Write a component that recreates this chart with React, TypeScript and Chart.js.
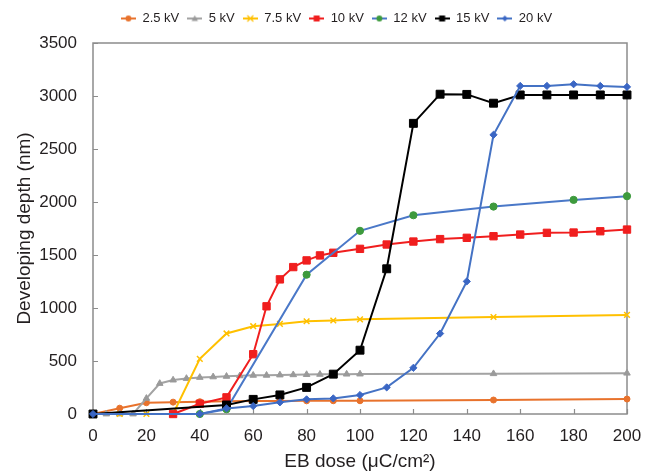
import React, { useEffect, useRef } from 'react';
import { Chart, registerables } from 'chart.js';

Chart.register(...registerables);

// ---- data ----
const seriesNames = ['2.5 kV', '5 kV', '7.5 kV', '10 kV', '12 kV', '15 kV', '20 kV'];

const dose25 = [0, 10, 20, 30, 40, 50, 60, 70, 80, 90, 100, 150, 200];
const depth25 = [0, 55, 106, 112, 116, 120, 122, 123, 124, 125, 125, 132, 141];

const dose5 = [0, 5, 10, 15, 20, 25, 30, 35, 40, 45, 50, 55, 60, 65, 70, 75, 80, 85, 90, 95, 100, 150, 200];
const depth5 = [0, 0, 0, 0, 147, 288, 320, 335, 345, 350, 355, 360, 365, 365, 368, 370, 372, 374, 375, 376, 377, 380, 385];

const dose75 = [0, 10, 20, 30, 40, 50, 60, 70, 80, 90, 100, 150, 200];
const depth75 = [0, 0, 0, 0, 520, 760, 828, 850, 875, 882, 893, 915, 935];

const dose10 = [30, 40, 50, 60, 65, 70, 75, 80, 85, 90, 100, 110, 120, 130, 140, 150, 160, 170, 180, 190, 200];
const depth10 = [0, 97, 157, 564, 1016, 1270, 1386, 1449, 1496, 1521, 1558, 1599, 1627, 1650, 1662, 1677, 1693, 1709, 1712, 1724, 1740];

const dose12 = [0, 40, 50, 80, 100, 120, 150, 180, 200];
const depth12 = [0, 0, 45, 1314, 1728, 1875, 1957, 2020, 2055];

const dose15 = [0, 50, 60, 70, 80, 90, 100, 110, 120, 130, 140, 150, 160, 170, 180, 190, 200];
const depth15 = [0, 85, 138, 180, 251, 376, 602, 1370, 2742, 3017, 3015, 2932, 3010, 3010, 3010, 3010, 3010];

const dose20 = [0, 40, 50, 60, 70, 80, 90, 100, 110, 120, 130, 140, 150, 160, 170, 180, 190, 200];
const depth20 = [0, 0, 53, 75, 110, 138, 147, 179, 251, 436, 759, 1251, 2634, 3095, 3095, 3111, 3095, 3086];

const doses = [dose25, dose5, dose75, dose10, dose12, dose15, dose20];
const depths = [depth25, depth5, depth75, depth10, depth12, depth15, depth20];

const xMin = 0, xMax = 200, xStep = 20;
const yMin = 0, yMax = 3500, yStep = 500;
const xTitle = 'EB dose (\u03bcC/cm\u00b2)';
const yTitle = 'Developing depth (nm)';

// ---- styles ----
const styles = [
  { line: '#E8722C', fill: '#E8722C', point: 'circle', r: 3 },
  { line: '#A3A3A3', fill: '#9A9A9A', point: 'triangle', r: 3.8 },
  { line: '#FFC000', fill: '#FFC000', point: 'crossRot', r: 4 },
  { line: '#F01E1E', fill: '#F01E1E', point: 'rect', r: 5.2 },
  { line: '#4A78C8', fill: '#3D9A3D', point: 'circle', r: 3.6 },
  { line: '#000000', fill: '#000000', point: 'rect', r: 5.6 },
  { line: '#4472C4', fill: '#3A66C4', point: 'rectRot', r: 3.6 },
];

const FONT = '"Liberation Sans", Arial, Helvetica, sans-serif';
const TEXT = '#231f20';
const FRAME = '#8c8c8c';
const ICON_W = 15;

function legendIcon(s: any): HTMLCanvasElement {
  const c = document.createElement('canvas');
  c.width = ICON_W; c.height = 10;
  const g = c.getContext('2d')!;
  g.strokeStyle = s.line; g.lineWidth = 2;
  g.beginPath(); g.moveTo(0, 5); g.lineTo(ICON_W, 5); g.stroke();
  g.fillStyle = s.fill; g.strokeStyle = s.fill; g.lineWidth = 1.2;
  const cx = ICON_W / 2, cy = 5;
  g.beginPath();
  if (s.point === 'circle') { g.arc(cx, cy, 3, 0, Math.PI * 2); g.fill(); }
  else if (s.point === 'rect') { g.fillRect(cx - 3, cy - 3, 6, 6); }
  else if (s.point === 'triangle') { g.moveTo(cx, cy - 3.2); g.lineTo(cx + 3.2, cy + 2.6); g.lineTo(cx - 3.2, cy + 2.6); g.closePath(); g.fill(); }
  else if (s.point === 'rectRot') { g.moveTo(cx, cy - 3); g.lineTo(cx + 3, cy); g.lineTo(cx, cy + 3); g.lineTo(cx - 3, cy); g.closePath(); g.fill(); }
  else if (s.point === 'crossRot') { g.moveTo(cx - 3, cy - 3); g.lineTo(cx + 3, cy + 3); g.moveTo(cx + 3, cy - 3); g.lineTo(cx - 3, cy + 3); g.stroke(); }
  return c;
}

const framePlugin = {
  id: 'frameTicks',
  afterLayout(chart: any) {
    const lg = chart.legend;
    if (lg) { lg.left += 23; lg.right += 23; lg.top -= 8; lg.bottom -= 8; }
  },
  beforeDatasetsDraw(chart: any) {
    const { ctx, chartArea } = chart;
    const { left, top, right, bottom } = chartArea;
    const xs = chart.scales.x, ys = chart.scales.y;
    ctx.save();
    ctx.strokeStyle = FRAME;
    ctx.lineWidth = 1.5;
    ctx.strokeRect(left, top, right - left, bottom - top);
    ctx.beginPath();
    xs.ticks.forEach((t: any) => {
      const px = Math.round(xs.getPixelForValue(t.value)) + 0.5;
      ctx.moveTo(px, bottom); ctx.lineTo(px, bottom - 5);
    });
    ys.ticks.forEach((t: any) => {
      const py = Math.round(ys.getPixelForValue(t.value)) + 0.5;
      ctx.moveTo(left, py); ctx.lineTo(left + 5, py);
    });
    ctx.lineWidth = 1.2;
    ctx.stroke();
    ctx.restore();
  },
};

export default function App() {
  const ref = useRef<HTMLCanvasElement>(null);
  useEffect(() => {
    if (!ref.current) return;
    const icons = styles.map(legendIcon);
    const n = seriesNames.length;
    const datasets = seriesNames.map((name, i) => ({
      label: name,
      data: doses[i].map((d, k) => ({ x: d, y: depths[i][k] })),
      borderColor: styles[i].line,
      backgroundColor: styles[i].fill,
      pointBackgroundColor: styles[i].fill,
      pointBorderColor: styles[i].fill,
      pointStyle: styles[i].point,
      pointRadius: styles[i].r,
      pointBorderWidth: styles[i].point === 'crossRot' ? 1.5 : 1,
      borderWidth: 2,
      tension: 0,
      clip: 10,
      order: n - i,
    }));
    const chart = new Chart(ref.current, {
      type: 'line',
      data: { datasets },
      plugins: [framePlugin],
      options: {
        animation: false,
        responsive: true,
        maintainAspectRatio: false,
        layout: { padding: { left: 0, right: 27, top: 12, bottom: 0 } },
        plugins: {
          tooltip: { enabled: false },
          legend: {
            position: 'top',
            align: 'center',
            labels: {
              usePointStyle: true,
              pointStyleWidth: ICON_W,
              padding: 8,
              color: TEXT,
              font: { family: FONT, size: 13 },
              generateLabels: () =>
                seriesNames.map((name, i) => ({
                  text: name,
                  datasetIndex: i,
                  pointStyle: icons[i],
                  fillStyle: styles[i].fill,
                  strokeStyle: styles[i].fill,
                  lineWidth: 0,
                  hidden: false,
                  fontColor: TEXT,
                })),
            },
          },
        },
        scales: {
          x: {
            type: 'linear',
            min: xMin,
            max: xMax,
            grid: { display: false },
            border: { display: false },
            ticks: { stepSize: xStep, color: TEXT, font: { family: FONT, size: 17 }, padding: 4, maxRotation: 0,
              callback: (v: any) => String(v) },
            title: { display: true, text: xTitle, color: TEXT, font: { family: FONT, size: 19 }, padding: { top: 0, bottom: 1 } },
            afterFit: (s: any) => { s.height = 60; },
          },
          y: {
            type: 'linear',
            min: yMin,
            max: yMax,
            grid: { display: false },
            border: { display: false },
            ticks: { stepSize: yStep, color: TEXT, font: { family: FONT, size: 17 }, padding: 8,
              callback: (v: any) => String(v) },
            title: { display: true, text: yTitle, color: TEXT, font: { family: FONT, size: 19 }, padding: { top: 13, bottom: 0 } },
            afterFit: (s: any) => { s.width = 93; },
          },
        },
      },
    } as any);
    return () => chart.destroy();
  }, []);
  return (
    <div style={{ position: 'absolute', left: 0, top: 0, width: 654, height: 474, background: '#fff' }}>
      <canvas ref={ref} />
    </div>
  );
}
